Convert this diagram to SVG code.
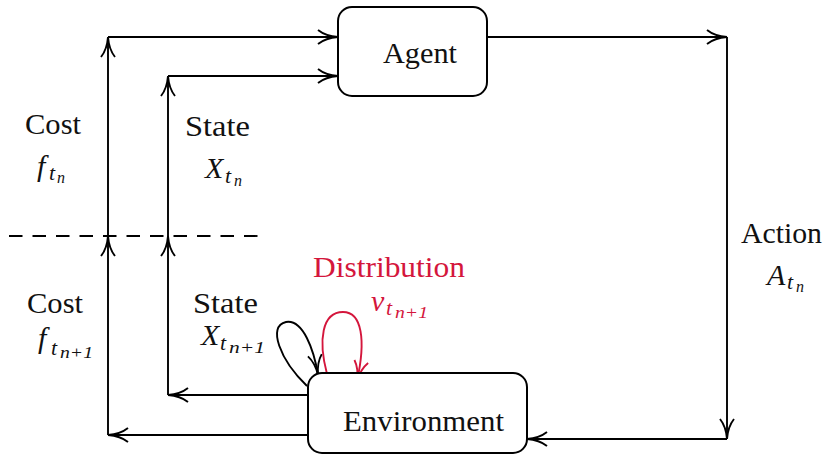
<svg xmlns="http://www.w3.org/2000/svg" width="824" height="455" viewBox="0 0 824 455">
<defs>
<style>
.ln{fill:none;stroke:#000;stroke-width:1.9}
.box{fill:#fff;stroke:#000;stroke-width:2}
.t{font-family:"Liberation Serif","Times New Roman",serif;font-size:30px;fill:#111}
.m{font-family:"Liberation Serif","Times New Roman",serif;font-style:italic;fill:#111}
.red{fill:#d4163c}
.rl{fill:none;stroke:#d4163c;stroke-width:1.9}
</style>
<marker id="ah" markerUnits="userSpaceOnUse" markerWidth="24" markerHeight="18" viewBox="-22 -9 24 18" refX="0" refY="0" orient="auto" overflow="visible">
<path d="M -20 -7 C -15 -3 -8 -0.6 0 0 C -8 0.6 -15 3 -20 7" fill="none" stroke="#000" stroke-width="1.9"/>
</marker>
<marker id="ahr" markerUnits="userSpaceOnUse" markerWidth="24" markerHeight="18" viewBox="-22 -9 24 18" refX="0" refY="0" orient="auto" overflow="visible">
<path d="M -20 -7 C -15 -3 -8 -0.6 0 0 C -8 0.6 -15 3 -20 7" fill="none" stroke="#d4163c" stroke-width="1.9"/>
</marker>
</defs>
<rect width="824" height="455" fill="#fff"/>

<g id="connectors">
<line x1="9" y1="236" x2="262" y2="236" stroke="#000" stroke-width="1.9" stroke-dasharray="13.5 10"/>
<path class="ln" d="M 488 37 H 727" marker-end="url(#ah)"/>
<path class="ln" d="M 727 37 V 439" marker-end="url(#ah)"/>
<path class="ln" d="M 727 439 H 527" marker-end="url(#ah)"/>
<path class="ln" d="M 308 395 H 168" marker-end="url(#ah)"/>
<path class="ln" d="M 308 435 H 108" marker-end="url(#ah)"/>
<path class="ln" d="M 108 435 V 236" marker-end="url(#ah)"/>
<path class="ln" d="M 108 236 V 37" marker-end="url(#ah)"/>
<path class="ln" d="M 108 37 H 338" marker-end="url(#ah)"/>
<path class="ln" d="M 168 395 V 236" marker-end="url(#ah)"/>
<path class="ln" d="M 168 236 V 76" marker-end="url(#ah)"/>
<path class="ln" d="M 168 76 H 338" marker-end="url(#ah)"/>
<path class="ln" d="M 307 386 C 280 360 267 326 286 322 C 303 319 314 350 318 375" marker-end="url(#ah)"/>
<path class="rl" d="M 327 374 C 318 340 322 312 343 312 C 362 312 366 340 357 381" marker-end="url(#ahr)"/>
</g>

<g id="agent">
<rect class="box" x="338" y="7" width="149" height="89" rx="14"/>
<text class="t" x="383" y="63" textLength="74" lengthAdjust="spacingAndGlyphs">Agent</text>
</g>

<g id="environment">
<rect class="box" x="308" y="373" width="219" height="80" rx="14"/>
<text class="t" x="343" y="431" textLength="161" lengthAdjust="spacingAndGlyphs">Environment</text>
</g>

<g id="cost-upper">
<text class="t" x="25" y="134" textLength="56" lengthAdjust="spacingAndGlyphs">Cost</text>
<text class="m" x="37" y="176" font-size="30">f</text>
<text class="m" x="49" y="180" font-size="22">t</text>
<text class="m" x="57" y="183" font-size="16">n</text>
</g>

<g id="state-upper">
<text class="t" x="185" y="136" textLength="65" lengthAdjust="spacingAndGlyphs">State</text>
<text class="m" x="205" y="178" font-size="30">X</text>
<text class="m" x="225" y="183" font-size="22">t</text>
<text class="m" x="234" y="186" font-size="16">n</text>
</g>

<g id="cost-lower">
<text class="t" x="27" y="313" textLength="56" lengthAdjust="spacingAndGlyphs">Cost</text>
<text class="m" x="38" y="348" font-size="30">f</text>
<text class="m" x="51" y="355" font-size="22">t</text>
<text class="m" x="60" y="358" font-size="16" textLength="33" lengthAdjust="spacingAndGlyphs">n+1</text>
</g>

<g id="state-lower">
<text class="t" x="193" y="313" textLength="65" lengthAdjust="spacingAndGlyphs">State</text>
<text class="m" x="201" y="345" font-size="30">X</text>
<text class="m" x="220" y="350" font-size="22">t</text>
<text class="m" x="229" y="353" font-size="16" textLength="36" lengthAdjust="spacingAndGlyphs">n+1</text>
</g>

<g id="distribution">
<text class="t red" x="313" y="277" textLength="152" lengthAdjust="spacingAndGlyphs">Distribution</text>
<text class="m red" x="371" y="311" font-size="30">ν</text>
<text class="m red" x="386" y="315" font-size="22">t</text>
<text class="m red" x="395" y="318" font-size="16" textLength="33" lengthAdjust="spacingAndGlyphs">n+1</text>
</g>

<g id="action">
<text class="t" x="741" y="243" textLength="81" lengthAdjust="spacingAndGlyphs">Action</text>
<text class="m" x="767" y="285" font-size="30">A</text>
<text class="m" x="787" y="289" font-size="22">t</text>
<text class="m" x="796" y="292" font-size="16">n</text>
</g>
</svg>
